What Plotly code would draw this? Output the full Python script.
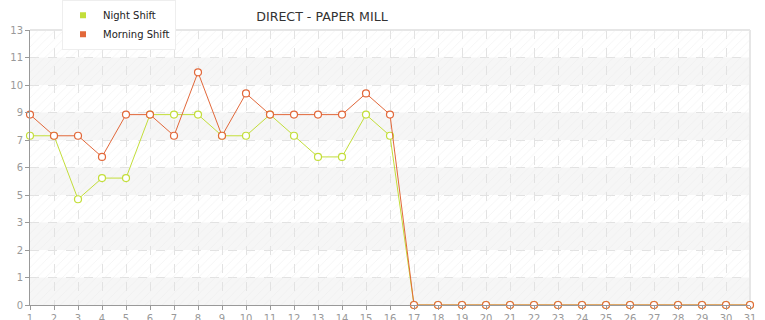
import plotly.graph_objects as go

days = list(range(1, 32))
night_shift = [8, 8, 5, 6, 6, 9, 9, 9, 8, 8, 9, 8, 7, 7, 9, 8] + [0] * 15
morning_shift = [9, 8, 8, 7, 9, 9, 8, 11, 8, 10, 9, 9, 9, 9, 10, 9] + [0] * 15
y_tick_vals = [0, 1.3, 2.6, 3.9, 5.2, 6.5, 7.8, 9.1, 10.4, 11.7, 13]
y_tick_text = ["0", "1", "2", "3", "5", "6", "7", "9", "10", "11", "13"]

NIGHT = "#c3de3a"
MORNING = "#e2683a"

fig = go.Figure()

# alternating background bands
for i in range(len(y_tick_vals) - 1):
    if i % 2 == 0:
        fig.add_shape(type="rect", xref="paper", yref="y", x0=0, x1=1,
                      y0=y_tick_vals[i], y1=y_tick_vals[i + 1],
                      fillcolor="#f6f6f6", line=dict(width=0), layer="below")

# hatch overlay
fig.add_trace(go.Bar(
    x=[16], y=[13], base=[0], width=30,
    marker=dict(
        color="rgba(255,255,255,0)",
        line=dict(width=0),
        pattern=dict(shape="/", fgcolor="#eaeaea", bgcolor="rgba(255,255,255,0)",
                     fillmode="overlay", size=6, solidity=0.15),
    ),
    showlegend=False, hoverinfo="skip",
))

fig.add_trace(go.Scatter(
    x=days, y=night_shift, name="Night Shift", mode="lines+markers",
    line=dict(color=NIGHT, width=1),
    marker=dict(symbol="circle", size=7, color="white", line=dict(color=NIGHT, width=1.2)),
    cliponaxis=False, showlegend=False,
))
fig.add_trace(go.Scatter(
    x=days, y=morning_shift, name="Morning Shift", mode="lines+markers",
    line=dict(color=MORNING, width=1),
    marker=dict(symbol="circle", size=7, color="white", line=dict(color=MORNING, width=1.2)),
    cliponaxis=False, showlegend=False,
))
# legend entries (square swatches)
for name, col in (("Night Shift", NIGHT), ("Morning Shift", MORNING)):
    fig.add_trace(go.Scatter(
        x=[None], y=[None], name=name, mode="markers",
        marker=dict(symbol="square", size=6, color=col),
    ))

fig.update_layout(
    width=765, height=320,
    margin=dict(l=30, r=15, t=30, b=15, autoexpand=False),
    paper_bgcolor="white", plot_bgcolor="white",
    barmode="overlay",
    font=dict(family="DejaVu Sans", size=10, color="#999999"),
    title=dict(text="DIRECT - PAPER MILL", x=322 / 765, xanchor="center",
               y=1 - 17 / 320, yanchor="middle",
               font=dict(family="DejaVu Sans", size=12.6, color="#333333")),
    legend=dict(x=(62 - 30) / 720, y=1.11, xanchor="left", yanchor="top",
                bgcolor="white", bordercolor="#eeeeee", borderwidth=1,
                font=dict(size=10, color="#222222"),
                itemwidth=30, tracegroupgap=0),
    showlegend=True,
)
fig.update_xaxes(
    range=[1, 31], tickmode="array", tickvals=days, ticktext=[str(d) for d in days],
    showgrid=True, gridcolor="#e2e2e2", griddash="dash", gridwidth=1,
    showline=True, linecolor="#999999", linewidth=1,
    ticks="outside", ticklen=4, tickcolor="#999999", zeroline=False,
    automargin=False,
)
fig.update_yaxes(
    range=[0, 13], tickmode="array", tickvals=y_tick_vals, ticktext=y_tick_text,
    showgrid=True, gridcolor="#e2e2e2", griddash="dash", gridwidth=1,
    showline=True, linecolor="#999999", linewidth=1,
    ticks="outside", ticklen=4, tickcolor="#999999", zeroline=False,
    automargin=False,
)
# light top/right border
fig.add_shape(type="line", xref="paper", yref="paper", x0=0, x1=1, y0=1, y1=1,
              line=dict(color="#e6e6e6", width=2), layer="below")
fig.add_shape(type="line", xref="paper", yref="paper", x0=1, x1=1, y0=0, y1=1,
              line=dict(color="#e6e6e6", width=2), layer="below")

fig.write_html("out.html")
